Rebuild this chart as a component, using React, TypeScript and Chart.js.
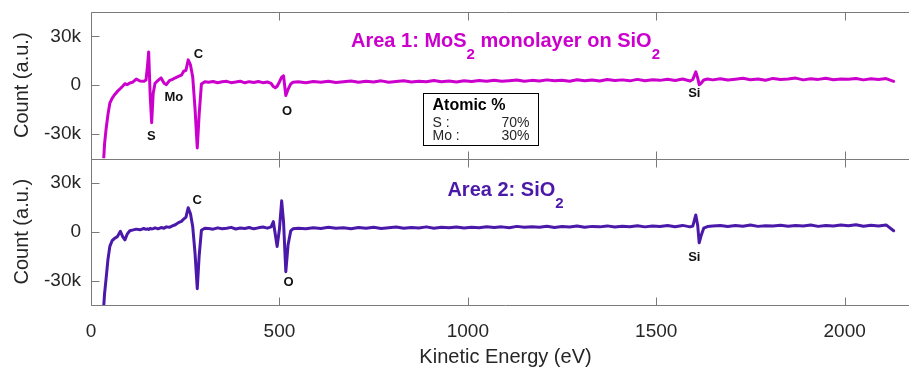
import React, { useEffect, useRef } from 'react';
import { Chart, registerables } from 'chart.js';

Chart.register(...registerables);

// ---------- data ----------
const energy = [
  32, 36, 40, 45, 50, 56, 62, 70, 78, 84, 90, 96, 103, 110, 120, 130, 140, 146, 150, 153,
  157, 161, 165, 170, 178, 186, 194, 200, 208, 216, 224, 232, 240, 246, 252, 258, 264, 270, 276, 282,
  287, 293, 302,
  312, 324, 336, 348, 360, 372, 384, 396, 408, 420, 432, 444, 456, 468,
  478, 484, 489, 494, 500, 506, 511, 517, 523, 530, 536,
  550, 570, 590, 610, 630, 650, 670, 690, 710, 730, 750, 770, 790, 810, 830, 850, 870, 890, 910, 930,
  950, 970, 990,
  1010, 1030, 1050, 1070, 1090, 1110, 1130, 1150, 1170, 1190, 1210, 1230, 1250, 1270, 1290, 1310, 1330, 1350, 1370, 1390,
  1410, 1430, 1450, 1470, 1490, 1510, 1530, 1550, 1570, 1590,
  1597, 1605, 1610, 1614, 1619, 1626, 1636,
  1650, 1670, 1690, 1710, 1730, 1750, 1770, 1790, 1810, 1830, 1850, 1870, 1890, 1910, 1930, 1950, 1970, 1990, 2010, 2030,
  2050, 2070, 2090, 2110, 2130,
];

const area1Counts = [
  -52000, -36000, -27000, -18000, -11000, -8000, -6000, -3800, -2000, -600, 900, 400, 1400, 1800, 3800, 2600, 2400, 3200, 12000, 20500,
  -6000, -23000, -5000, 1200, 3000, 4500, 1200, 400, 2800, 3600, 4600, 5400, 6200, 8600, 9200, 15600, 12500, 5000, -14000, -38500,
  -18000, 800, 2200,
  1800, 2300, 1500, 2100, 2400, 1600, 2000, 2500, 1500, 2200, 1700, 2300, 1600, 2000,
  1200, -800, -1500, -600, 2000, 5000, 5800, -6300, -2500, 800, 1800,
  2100, 1600, 2300, 1800, 2500, 1700, 2200, 2600, 1800, 2400, 2000, 2700, 1900, 2300, 2800, 2000, 2500, 2100, 2900, 2200,
  2600, 2000, 2700,
  2300, 2900, 2400, 3100, 2500, 2800, 3200, 2400, 3000, 2600, 3300, 2700, 3100, 2500, 3400, 2800, 3200, 2600, 3500, 2900,
  3300, 2700, 3600, 2800, 3400, 3000, 3700, 2900, 3800, 2600,
  3500, 8200, 4500, 300, 1200, 3200, 3800,
  3300, 4000, 3200, 3700, 4300, 3400, 3900, 3100, 4200, 3500, 3800, 4400, 3300, 4000, 3600, 4300, 3400, 3900, 3700, 4200,
  3300, 4000, 3600, 4100, 2400,
];

const area2Counts = [
  -52000, -38000, -29000, -17000, -9000, -5500, -4200, -3000, 300, -3000, -5000, -1500, 600, 1000, 1600, 1200, 2000, 1500, 1800, 1400,
  2100, 1700, 1900, 2400, 1800, 2600, 2200, 3000, 2700, 3600, 4300, 5600, 6400, 7800, 9000, 14800, 11000, 3000, -13000, -35000,
  -15000, 900, 2200,
  2000, 1600, 2400, 1800, 2200, 2700, 1700, 2300, 2000, 2600, 1800, 2400, 2900, 2200,
  3000, 6200, -1500, -9000, 1500, 19000, 6000, -24500, -8000, 500, 1800,
  2200, 1800, 2500, 2000, 2700, 2100, 2400, 1900, 2600, 2200, 2800, 2000, 2500, 2900, 2100, 2600, 2300, 3000, 2200, 2700,
  2400, 2900, 2300,
  2800, 2400, 3100, 2600, 3000, 2500, 3300, 2700, 3100, 2800, 3400, 2600, 3200, 2900, 3500, 2800, 3300, 3000, 3600, 2900,
  3400, 3100, 3700, 3000, 3500, 3200, 3800, 3100, 3900, 3000,
  3500, 10300, 4000, -6800, -2500, 2200, 3200,
  3500, 3900, 3200, 3800, 3400, 4100, 3300, 3700, 3500, 4000, 3400, 3800, 3600, 4200, 3300, 3900, 3500, 4100, 3700, 4300,
  3400, 4000, 3600, 4200, 600,
];

const xTickValues = [0, 500, 1000, 1500, 2000];
const yTickValues = [-30000, 0, 30000];

const area1Labels = ['S', 'Mo', 'C', 'O', 'Si'];
const area1LabelEnergy = [160, 220, 285, 520, 1601];
const area1LabelCount = [-31500, -7600, 19200, -15900, -5100];
const area2Labels = ['C', 'O', 'Si'];
const area2LabelEnergy = [282, 524, 1601];
const area2LabelCount = [19500, -31000, -15600];

const atomicRows = [['S :', '70%'], ['Mo :', '30%']];

// ---------- styles ----------
const FONT = '"Liberation Sans", Arial, Helvetica, sans-serif';
const MAGENTA = '#CC00CC';
const PURPLE = '#4B19A9';
const TEXT = '#262626';
const AXIS = '#7a7a7a';
const TICK_LEN = 8;

function drawSubText(ctx: CanvasRenderingContext2D, parts: [string, boolean][], cx: number, baseline: number, color: string) {
  const mainFont = `bold 20px ${FONT}`;
  const subFont = `bold 15px ${FONT}`;
  let total = 0;
  for (const [t, sub] of parts) {
    ctx.font = sub ? subFont : mainFont;
    total += ctx.measureText(t).width;
  }
  let x = cx - total / 2;
  ctx.fillStyle = color;
  ctx.textAlign = 'left';
  ctx.textBaseline = 'alphabetic';
  for (const [t, sub] of parts) {
    ctx.font = sub ? subFont : mainFont;
    ctx.fillText(t, x, sub ? baseline + 12 : baseline);
    x += ctx.measureText(t).width;
  }
}

const decor = {
  id: 'decor',
  beforeDatasetDraw(chart: any, args: any) {
    const ds = chart.data.datasets[args.index];
    const ys = chart.scales[ds.yAxisID];
    const { ctx, chartArea } = chart;
    ctx.save();
    ctx.beginPath();
    ctx.rect(chartArea.left, ys.top, chartArea.right - chartArea.left, ys.bottom - ys.top);
    ctx.clip();
  },
  afterDatasetDraw(chart: any) {
    chart.ctx.restore();
  },
  afterDraw(chart: any) {
    const { ctx, chartArea } = chart;
    const { left, right } = chartArea;
    const xs = chart.scales.x;
    const yTop = chart.scales.yTop;
    const yBot = chart.scales.yBot;
    ctx.save();
    ctx.strokeStyle = AXIS;
    ctx.lineWidth = 1;
    ctx.beginPath();
    const L = Math.round(left) + 0.5;
    const R = Math.round(right) - 0.5;
    for (const ys of [yTop, yBot]) {
      const t = Math.round(ys.top) + 0.5;
      const b = Math.round(ys.bottom) + 0.5;
      ctx.moveTo(L, t); ctx.lineTo(R, t);
      ctx.moveTo(L, b); ctx.lineTo(R, b);
      ctx.moveTo(L, t); ctx.lineTo(L, b);
      ctx.moveTo(R, t); ctx.lineTo(R, b);
      for (const v of xTickValues) {
        const px = Math.round(xs.getPixelForValue(v)) + 0.5;
        ctx.moveTo(px, t); ctx.lineTo(px, t + TICK_LEN);
        ctx.moveTo(px, b); ctx.lineTo(px, b - TICK_LEN);
      }
      for (const v of yTickValues) {
        const py = Math.round(ys.getPixelForValue(v)) + 0.5;
        ctx.moveTo(L, py); ctx.lineTo(L + TICK_LEN, py);
        ctx.moveTo(R, py); ctx.lineTo(R - TICK_LEN, py);
      }
    }
    ctx.stroke();

    // peak labels
    ctx.fillStyle = '#111';
    ctx.font = `bold 13px ${FONT}`;
    ctx.textAlign = 'center';
    ctx.textBaseline = 'middle';
    area1Labels.forEach((s, i) => {
      ctx.fillText(s, xs.getPixelForValue(area1LabelEnergy[i]), yTop.getPixelForValue(area1LabelCount[i]));
    });
    area2Labels.forEach((s, i) => {
      ctx.fillText(s, xs.getPixelForValue(area2LabelEnergy[i]), yBot.getPixelForValue(area2LabelCount[i]));
    });

    // panel titles
    const cx = xs.getPixelForValue(1100);
    drawSubText(ctx, [['Area 1: MoS', false], ['2', true], [' monolayer on SiO', false], ['2', true]], cx, yTop.getPixelForValue(23400), MAGENTA);
    drawSubText(ctx, [['Area 2: SiO', false], ['2', true]], cx, yBot.getPixelForValue(22000), PURPLE);

    // atomic % box
    const bx = Math.round(xs.getPixelForValue(880)) + 0.5;
    const by = Math.round(yTop.getPixelForValue(-4500)) + 0.5;
    const bw = 115, bh = 52;
    ctx.fillStyle = '#fff';
    ctx.fillRect(bx, by, bw, bh);
    ctx.strokeStyle = '#000';
    ctx.lineWidth = 1;
    ctx.strokeRect(bx, by, bw, bh);
    ctx.fillStyle = '#000';
    ctx.textBaseline = 'alphabetic';
    ctx.textAlign = 'left';
    ctx.font = `bold 16px ${FONT}`;
    ctx.fillText('Atomic %', bx + 9, by + 16);
    ctx.font = `14px ${FONT}`;
    ctx.fillStyle = TEXT;
    atomicRows.forEach(([k, v], i) => {
      const yy = by + 33 + i * 13.3;
      ctx.textAlign = 'left';
      ctx.fillText(k, bx + 9, yy);
      ctx.textAlign = 'right';
      ctx.fillText(v, bx + 106, yy);
    });
    ctx.restore();
  },
};

export default function App() {
  const ref = useRef<HTMLCanvasElement>(null);
  useEffect(() => {
    const canvas = ref.current;
    if (!canvas) return;
    const yAxis = (weight: number) => ({
      type: 'linear' as const,
      position: 'left' as const,
      stack: 'panels',
      stackWeight: 1,
      weight,
      min: -45000,
      max: 45000,
      grid: { display: false, drawTicks: false },
      border: { display: false },
      ticks: {
        padding: 10,
        color: TEXT,
        font: { size: 19, family: FONT },
        callback: (v: any) => (v === 0 ? '0' : `${v / 1000}k`),
      },
      afterBuildTicks: (s: any) => {
        s.ticks = yTickValues.map((v) => ({ value: v }));
      },
      afterFit: (s: any) => {
        s.width = 91;
        s.paddingTop = 0;
        s.paddingBottom = 0;
      },
      title: {
        display: true,
        text: 'Count (a.u.)',
        color: TEXT,
        font: { size: 20, family: FONT },
        padding: { top: 10, bottom: 0 },
      },
    });
    const chart = new Chart(canvas, {
      type: 'line',
      data: {
        datasets: [
          {
            label: 'Area 1: MoS2 monolayer on SiO2',
            data: energy.map((e, i) => ({ x: e, y: area1Counts[i] })),
            borderColor: MAGENTA,
            borderWidth: 3,
            pointRadius: 0,
            tension: 0,
            fill: false,
            borderJoinStyle: 'round',
            borderCapStyle: 'round',
            xAxisID: 'x',
            yAxisID: 'yTop',
          },
          {
            label: 'Area 2: SiO2',
            data: energy.map((e, i) => ({ x: e, y: area2Counts[i] })),
            borderColor: PURPLE,
            borderWidth: 3,
            pointRadius: 0,
            tension: 0,
            fill: false,
            borderJoinStyle: 'round',
            borderCapStyle: 'round',
            xAxisID: 'x',
            yAxisID: 'yBot',
          },
        ],
      },
      options: {
        animation: false,
        responsive: false,
        maintainAspectRatio: false,
        layout: { padding: { left: 0, right: 20, top: 12, bottom: 0 } },
        plugins: { legend: { display: false }, tooltip: { enabled: false } },
        scales: {
          x: {
            type: 'linear',
            min: 0,
            max: 2200,
            grid: { display: false, drawTicks: false },
            border: { display: false },
            ticks: {
              padding: 15,
              color: TEXT,
              maxRotation: 0,
              autoSkip: false,
              font: { size: 19, family: FONT },
              callback: (v: any) => String(v),
            },
            afterBuildTicks: (s: any) => {
              s.ticks = xTickValues.map((v) => ({ value: v }));
            },
            afterFit: (s: any) => {
              s.height = 62;
              s.paddingLeft = 0;
              s.paddingRight = 0;
            },
            title: {
              display: true,
              text: 'Kinetic Energy (eV)',
              color: TEXT,
              font: { size: 20, family: FONT, lineHeight: 1 },
              padding: { top: 0, bottom: 0 },
            },
          },
          yTop: yAxis(1) as any,
          yBot: yAxis(0) as any,
        },
      } as any,
      plugins: [decor],
    });
    return () => chart.destroy();
  }, []);
  return (
    <div style={{ position: 'absolute', left: 0, top: 0, width: 909, height: 367, overflow: 'hidden', background: '#fff' }}>
      <canvas ref={ref} width={940} height={367} style={{ display: 'block', width: 940, height: 367 }} />
    </div>
  );
}
